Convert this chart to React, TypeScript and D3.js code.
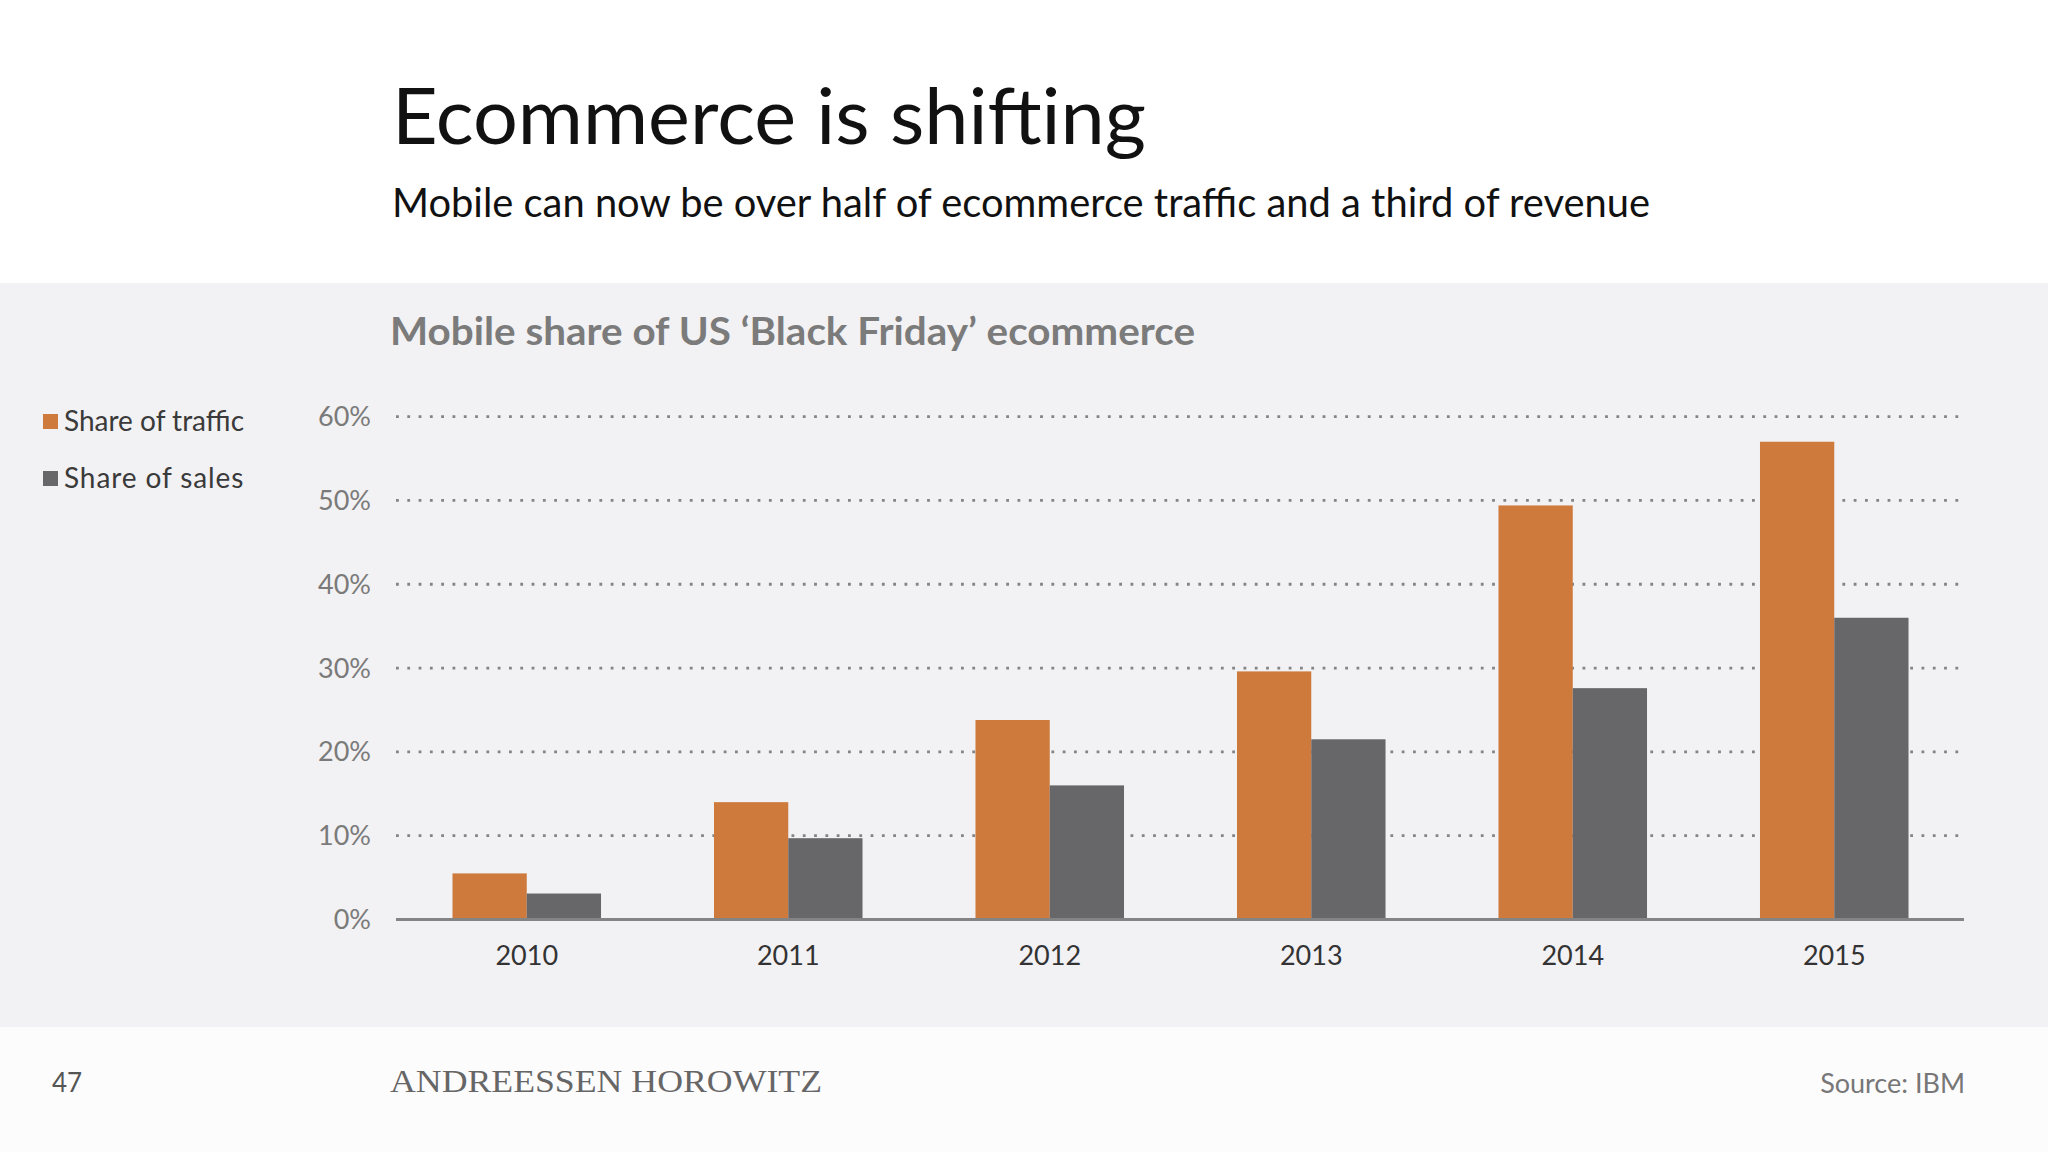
import React from 'react';
import * as d3 from 'd3';

const years = ['2010', '2011', '2012', '2013', '2014', '2015'];
const trafficShare = [5.5, 14.0, 23.8, 29.6, 49.4, 57.0];
const salesShare = [3.1, 9.7, 16.0, 21.5, 27.6, 36.0];
const yTicks = [0, 10, 20, 30, 40, 50, 60];
const seriesKeys = ['traffic', 'sales'];
const seriesLabels = ['Share of traffic', 'Share of sales'];

const colors = {
  traffic: '#cd7a3c',
  sales: '#676668',
  panel: '#f2f1f3',
  footer: '#fdfcfd',
  grid: '#848484',
  tick: '#7a7a7a',
};

const W = 2048;
const H = 1152;
const sans = 'Lato, "Open Sans", sans-serif';

export default function App() {
  const x0 = d3.scaleBand<string>()
    .domain(years)
    .range([396, 1965])
    .paddingInner(0.432)
    .paddingOuter(0.216);

  const x1 = d3.scaleBand<string>()
    .domain(seriesKeys)
    .range([0, x0.bandwidth()]);

  const y = d3.scaleLinear().domain([0, 60]).range([919.5, 416.6]);

  const rows = years.map((yr, i) => ({ year: yr, traffic: trafficShare[i], sales: salesShare[i] }));

  return (
    <svg width={W} height={H} style={{ position: 'absolute', left: 0, top: 0 }} fontFamily={sans}>
      <rect x={0} y={0} width={W} height={H} fill="#ffffff" />
      <rect x={0} y={283} width={W} height={744} fill={colors.panel} />
      <rect x={0} y={1027} width={W} height={H - 1027} fill={colors.footer} />

      {/* Headline */}
      <text x={392} y={144} fontSize={78} fill="#111" textLength={754} lengthAdjust="spacingAndGlyphs">
        Ecommerce is shifting
      </text>
      <text x={392} y={217} fontSize={40} fill="#111" textLength={1258} lengthAdjust="spacingAndGlyphs">
        Mobile can now be over half of ecommerce traffic and a third of revenue
      </text>

      {/* Chart title */}
      <text x={390} y={345} fontSize={39} fontWeight={700} fill="#7b7b7b" textLength={805} lengthAdjust="spacingAndGlyphs">
        Mobile share of US ‘Black Friday’ ecommerce
      </text>

      {/* Legend */}
      {seriesKeys.map((k, i) => (
        <g key={k} transform={`translate(43,${414 + i * 57})`}>
          <rect x={0} y={0} width={15} height={15} fill={colors[k as 'traffic' | 'sales']} />
          <text x={21} y={17} fontSize={28} fill="#3a3a3a" letterSpacing={i === 1 ? 0.9 : 0}>{seriesLabels[i]}</text>
        </g>
      ))}

      {/* Gridlines + y ticks */}
      {yTicks.map(t => (
        <g key={t}>
          {t > 0 && (
            <line x1={396} x2={1959} y1={y(t)} y2={y(t)} stroke={colors.grid}
              strokeWidth={2.8} strokeDasharray="2.8 8.5" />
          )}
          <text x={371} y={y(t)} dy="0.35em" textAnchor="end" fontSize={27} fill={colors.tick}>
            {t}%
          </text>
        </g>
      ))}

      {/* Bars */}
      {rows.map(r => (
        <g key={r.year} transform={`translate(${x0(r.year)},0)`}>
          {seriesKeys.map(k => {
            const v = r[k as 'traffic' | 'sales'];
            return (
              <rect key={k} x={x1(k)} y={y(v)} width={x1.bandwidth()} height={y(0) - y(v)}
                fill={colors[k as 'traffic' | 'sales']} />
            );
          })}
          <text x={x0.bandwidth() / 2} y={965} textAnchor="middle" fontSize={27} fill="#333">
            {r.year}
          </text>
        </g>
      ))}

      {/* Baseline */}
      <line x1={396} x2={1964} y1={y(0)} y2={y(0)} stroke={colors.grid} strokeWidth={3} />

      {/* Footer */}
      <text x={52} y={1092} fontSize={26} fill="#555">47</text>
      <text x={390} y={1092} fontSize={31} fill="#666" fontFamily='"Liberation Serif", serif'
        textLength={432} lengthAdjust="spacingAndGlyphs">
        ANDREESSEN HOROWITZ
      </text>
      <text x={1965} y={1093} textAnchor="end" fontSize={27} fill="#777">Source: IBM</text>
    </svg>
  );
}
